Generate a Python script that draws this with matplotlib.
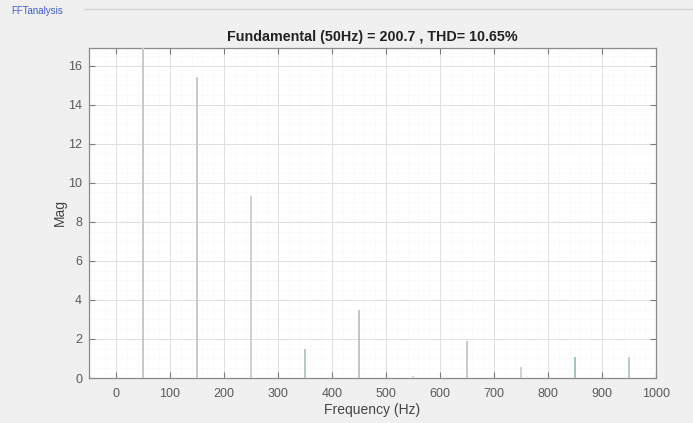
import matplotlib
matplotlib.use("Agg")
import matplotlib.pyplot as plt
from matplotlib.ticker import MultipleLocator

# Data
freqs = [50, 150, 250, 350, 450, 550, 650, 750, 850, 950]
mags = [200.7, 15.4, 9.3, 1.5, 3.5, 0.1, 1.9, 0.58, 1.09, 1.05]
bar_colors = ['#cacaca', '#cacaca', '#d0d0d0', '#b4cac2', '#c4c4c4', '#d4d4d4',
              '#c6cccc', '#d0d4d0', '#a4c8b8', '#b8ccc4']
xticks = [0, 100, 200, 300, 400, 500, 600, 700, 800, 900, 1000]
yticks = [0, 2, 4, 6, 8, 10, 12, 14, 16]
title = "Fundamental (50Hz) = 200.7 , THD= 10.65%"

plt.rcParams['font.family'] = ['Liberation Sans', 'DejaVu Sans']

fig = plt.figure(figsize=(6.93, 4.23), dpi=100)
fig.patch.set_facecolor('#f0f0f0')

# panel label and border
fig.text(11 / 693, 1 - 11 / 423, "FFTanalysis", color='#4060c8', fontsize=7,
         va='center', ha='left')
fig.add_artist(plt.Line2D([84 / 693, 1.0], [1 - 9 / 423, 1 - 9 / 423],
                          color='#d4d4d4', lw=1, transform=fig.transFigure))

ax = fig.add_axes([89 / 693, 1 - 378 / 423, (656 - 89) / 693, (378 - 48) / 423])
ax.set_facecolor('white')

ax.bar(freqs, mags, width=2.2, color=bar_colors, linewidth=0, zorder=3)

ax.set_xlim(-50, 1000)
ax.set_ylim(0, 16.9)
ax.set_xticks(xticks)
ax.set_yticks(yticks)
ax.xaxis.set_minor_locator(MultipleLocator(20))
ax.yaxis.set_minor_locator(MultipleLocator(0.5))

ax.grid(which='major', color='#e0e0e0', lw=0.7, zorder=0)
ax.grid(which='minor', color='#f0f0f0', lw=0.5, ls=':', zorder=0)
ax.set_axisbelow(True)

for s in ax.spines.values():
    s.set_color('#8a8a8a')
    s.set_linewidth(0.9)

ax.tick_params(which='major', direction='in', length=4, width=0.8, color='#7a7a7a',
               labelsize=9, labelcolor='#5a5a5a', top=True, right=True)
ax.tick_params(which='minor', length=0)
ax.tick_params(axis='x', pad=7)
ax.tick_params(axis='y', pad=5)

ax.set_xlabel("Frequency (Hz)", fontsize=10, color='#444444', labelpad=2)
ax.set_ylabel("Mag", fontsize=10, color='#444444', labelpad=1)
ax.set_title(title, fontsize=10.3, fontweight='bold', color='#222222', pad=5)

fig.savefig("out.png", dpi=100, facecolor=fig.get_facecolor())
